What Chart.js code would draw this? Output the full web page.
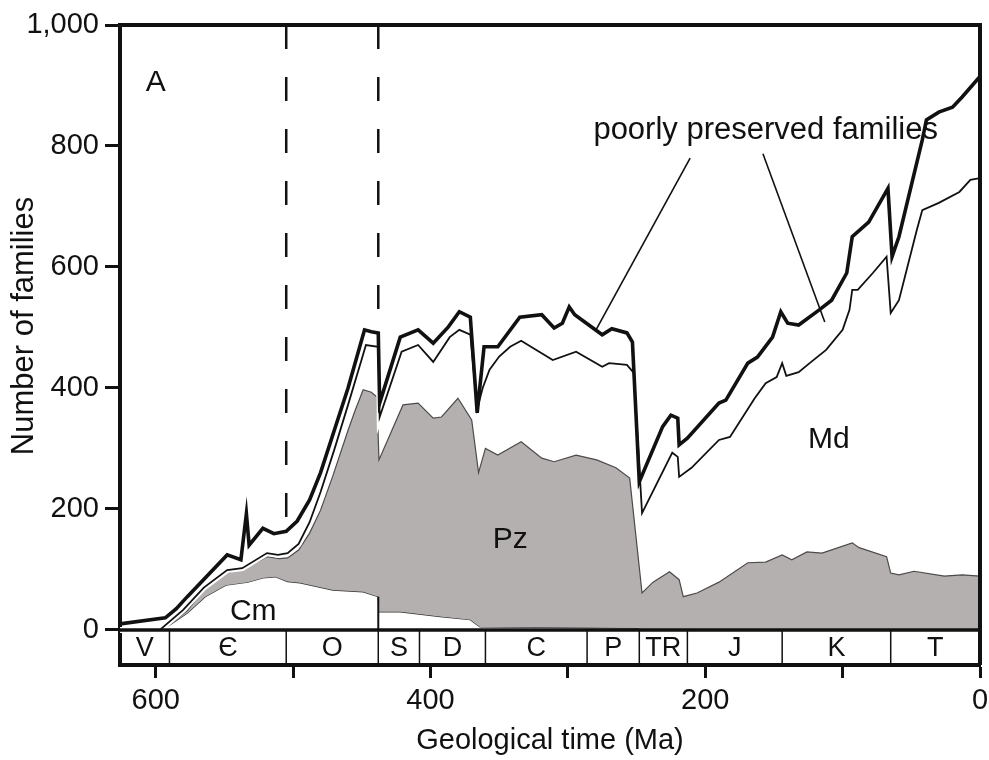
<!DOCTYPE html>
<html>
<head>
<meta charset="utf-8">
<script src="https://cdn.jsdelivr.net/npm/chart.js@4.4.0/dist/chart.umd.min.js"></script>
<style>
  body { margin: 0; background: #fff; }
  canvas { display: block; }
</style>
</head>
<body>
<canvas id="myChart" width="989" height="760"></canvas>
<script>
// total families (thick line)
const totalAges = [626, 593, 585, 577, 548, 538, 534, 532, 522, 514, 505, 497, 488, 480, 470, 460, 450, 448, 443, 438, 437, 422, 409, 398, 387, 379, 371, 366, 361, 351, 335, 319, 310, 304, 299, 295, 275, 268, 257, 253, 248, 231, 225, 220, 219, 213, 190, 185, 169, 162, 151, 145, 140, 132, 117, 108, 97, 93, 81, 67, 64, 59, 42, 39, 30, 20, 13, 0];
const totalValues = [10, 20, 35, 55, 124, 116, 192, 140, 168, 159, 163, 180, 215, 260, 330, 400, 480, 496, 493, 491, 375, 484, 496, 474, 501, 526, 517, 359, 468, 468, 517, 521, 499, 507, 534, 521, 488, 498, 491, 476, 245, 336, 355, 350, 306, 317, 375, 380, 441, 451, 484, 526, 507, 504, 529, 545, 590, 650, 674, 730, 617, 650, 810, 843, 856, 864, 881, 915];

// well preserved families (thin line)
const wellAges = [626, 597, 580, 565, 548, 537, 519, 511, 504, 496, 488, 480, 470, 460, 450, 447, 438, 437, 421, 409, 398, 386, 379, 371, 366, 362, 357, 350, 342, 334, 311, 294, 275, 270, 257, 252, 246, 224, 220, 219, 210, 190, 182, 164, 156, 148, 144, 141, 132, 124, 112, 100, 95, 93, 89, 78, 68, 65, 59, 46, 42, 30, 15, 7, 0];
const wellValues = [0, 0, 33, 70, 99, 102, 127, 124, 127, 142, 178, 228, 298, 372, 448, 471, 468, 352, 460, 471, 443, 484, 496, 488, 365, 400, 430, 452, 468, 478, 446, 460, 435, 441, 438, 425, 193, 293, 286, 253, 268, 314, 319, 383, 408, 418, 441, 420, 426, 441, 463, 496, 529, 562, 562, 590, 617, 524, 545, 661, 694, 706, 724, 744, 747];

// top of the Paleozoic fauna (Cm + Pz)
const pzAges = [626, 598, 590, 577, 564, 549, 540, 530, 519, 510, 504, 496, 488, 480, 471, 460, 455, 449, 443, 439, 437.5, 420, 409, 398, 392, 380, 370, 365, 360, 351, 334, 319, 310, 294, 279, 265, 255, 246, 238, 226, 219, 216, 206, 190, 169, 156, 144, 137, 126, 115, 93, 88, 68, 65, 59, 48, 26, 13, 0];
const pzValues = [0, 0, 9, 32, 70, 94, 100, 108, 121, 118, 119, 132, 160, 198, 255, 330, 362, 397, 393, 385, 281, 372, 375, 350, 352, 383, 347, 260, 300, 289, 311, 284, 278, 289, 281, 268, 251, 61, 79, 96, 83, 55, 61, 79, 111, 112, 124, 116, 129, 127, 144, 136, 121, 94, 91, 97, 89, 91, 89];

// Cambrian fauna
const cmAges = [626, 598, 590, 577, 564, 549, 533, 522, 513, 504, 495, 471, 449, 438, 437.5, 422, 393, 371, 364, 300, 250, 245, 0];
const cmValues = [0, 0, 8, 28, 55, 74, 79, 86, 88, 80, 78, 66, 63, 55, 30, 30, 22, 17, 5, 4, 3, 0, 0];

const periodBounds = [626, 590, 505, 438, 408, 360, 286, 248, 213, 144, 65, 0];
const periodLabels = ['V', 'Є', 'O', 'S', 'D', 'C', 'P', 'TR', 'J', 'K', 'T'];

const xTicks = [600, 500, 400, 300, 200, 100, 0];
const xLabels = [600, 400, 200, 0];
const yTicks = [0, 200, 400, 600, 800, 1000];

const fam = "'Liberation Sans', Arial, Helvetica, sans-serif";
const ink = '#111';

const pts = (ages, vals) => ages.map((t, i) => ({ x: t, y: vals[i] }));

const decorations = {
    id: 'decorations',
    beforeDatasetsDraw(chart) {
        const { ctx, scales: { x, y } } = chart;
        ctx.save();
        ctx.strokeStyle = ink;
        ctx.lineWidth = 2.5;
        ctx.setLineDash([24, 28]);
        [[505, 175], [438, 495]].forEach(d => {
            ctx.beginPath();
            ctx.moveTo(x.getPixelForValue(d[0]), y.getPixelForValue(1000));
            ctx.lineTo(x.getPixelForValue(d[0]), y.getPixelForValue(d[1]));
            ctx.stroke();
        });
        ctx.restore();
    },
    afterDatasetsDraw(chart) {
        const { ctx, chartArea, scales: { x, y } } = chart;
        ctx.save();
        const y0 = y.getPixelForValue(0);
        const yb = chartArea.bottom;

        // solid piece of the O/S line under the Cm curve
        ctx.strokeStyle = ink;
        ctx.lineWidth = 2;
        ctx.beginPath();
        ctx.moveTo(x.getPixelForValue(438), y.getPixelForValue(55));
        ctx.lineTo(x.getPixelForValue(438), y0);
        ctx.stroke();

        // period band
        ctx.lineWidth = 3.5;
        ctx.beginPath();
        ctx.moveTo(chartArea.left, y0);
        ctx.lineTo(chartArea.right, y0);
        ctx.stroke();
        ctx.lineWidth = 1.5;
        periodBounds.slice(1, -1).forEach(t => {
            ctx.beginPath();
            ctx.moveTo(x.getPixelForValue(t), y0);
            ctx.lineTo(x.getPixelForValue(t), yb);
            ctx.stroke();
        });
        ctx.fillStyle = ink;
        ctx.textAlign = 'center';
        ctx.textBaseline = 'middle';
        ctx.font = '27px ' + fam;
        periodLabels.forEach((lab, i) => {
            const cx = (x.getPixelForValue(periodBounds[i]) + x.getPixelForValue(periodBounds[i + 1])) / 2;
            ctx.fillText(lab, cx, (y0 + yb) / 2 + 1);
        });

        // top and right of the frame
        ctx.lineWidth = 4;
        ctx.beginPath();
        ctx.moveTo(chartArea.left, chartArea.top);
        ctx.lineTo(chartArea.right, chartArea.top);
        ctx.lineTo(chartArea.right, yb);
        ctx.stroke();

        // text labels
        ctx.font = '30px ' + fam;
        ctx.fillText('A', x.getPixelForValue(600), y.getPixelForValue(904));
        ctx.fillText('Pz', x.getPixelForValue(342), y.getPixelForValue(149));
        ctx.fillText('Cm', x.getPixelForValue(529), y.getPixelForValue(30));
        ctx.fillText('Md', x.getPixelForValue(110), y.getPixelForValue(314));
        ctx.font = '31px ' + fam;
        ctx.fillText('poorly preserved families', x.getPixelForValue(156), y.getPixelForValue(826));

        // pointer lines
        ctx.lineWidth = 1.6;
        [[211, 780, 280, 494], [158, 787, 113, 509]].forEach(p => {
            ctx.beginPath();
            ctx.moveTo(x.getPixelForValue(p[0]), y.getPixelForValue(p[1]));
            ctx.lineTo(x.getPixelForValue(p[2]), y.getPixelForValue(p[3]));
            ctx.stroke();
        });

        // y axis title
        ctx.translate(24, 326);
        ctx.rotate(-Math.PI / 2);
        ctx.font = '31px ' + fam;
        ctx.fillText('Number of families', 0, 0);
        ctx.restore();
    }
};

const data = {
    datasets: [
        {
            label: 'Total',
            data: pts(totalAges, totalValues),
            borderColor: ink,
            borderWidth: 3.6,
            pointRadius: 0,
            fill: false
        },
        {
            label: 'Well preserved',
            data: pts(wellAges, wellValues),
            borderColor: ink,
            borderWidth: 1.8,
            pointRadius: 0,
            fill: false
        },
        {
            label: 'halo',
            data: pts(wellAges, wellValues),
            borderColor: '#fff',
            borderWidth: 6,
            pointRadius: 0,
            fill: false
        },
        {
            label: 'Pz',
            data: pts(pzAges, pzValues),
            borderColor: '#4d4a4a',
            borderWidth: 1.2,
            backgroundColor: '#b5b0b0',
            pointRadius: 0,
            fill: '+1'
        },
        {
            label: 'Cm',
            data: pts(cmAges, cmValues),
            borderColor: '#333',
            borderWidth: 1.4,
            pointRadius: 0,
            fill: false
        }
    ]
};

const config = {
    type: 'line',
    data: data,
    options: {
        responsive: false,
        animation: false,
        layout: { padding: { top: 25, right: 9, left: 0, bottom: 0 } },
        elements: { line: { tension: 0, borderJoinStyle: 'miter' } },
        plugins: {
            legend: { display: false },
            tooltip: { enabled: false }
        },
        scales: {
            x: {
                type: 'linear',
                reverse: true,
                min: 0,
                max: 626,
                afterBuildTicks: s => { s.ticks = xTicks.map(v => ({ value: v })); },
                afterFit: s => { s.height = 95; s.paddingLeft = 0; s.paddingRight = 0; },
                ticks: {
                    autoSkip: false,
                    maxRotation: 0,
                    padding: 6,
                    color: ink,
                    font: { size: 29, family: fam },
                    callback: v => xLabels.includes(v) ? String(v) : ''
                },
                grid: { drawOnChartArea: false, tickLength: 13, tickWidth: 3, tickColor: ink },
                border: { width: 4, color: ink },
                title: {
                    display: true,
                    text: 'Geological time (Ma)',
                    color: ink,
                    font: { size: 29, family: fam },
                    padding: { top: 0, bottom: 2 }
                }
            },
            y: {
                min: -58,
                max: 1000,
                afterBuildTicks: s => { s.ticks = yTicks.map(v => ({ value: v })); },
                afterFit: s => { s.width = 120; s.paddingTop = 0; s.paddingBottom = 0; },
                ticks: {
                    padding: 6,
                    color: ink,
                    font: { size: 29, family: fam },
                    callback: v => v.toLocaleString('en-US')
                },
                grid: { drawOnChartArea: false, tickLength: 15, tickWidth: 3, tickColor: ink },
                border: { width: 4, color: ink }
            }
        }
    },
    plugins: [decorations]
};

const myChart = new Chart(document.getElementById('myChart'), config);
</script>
</body>
</html>
